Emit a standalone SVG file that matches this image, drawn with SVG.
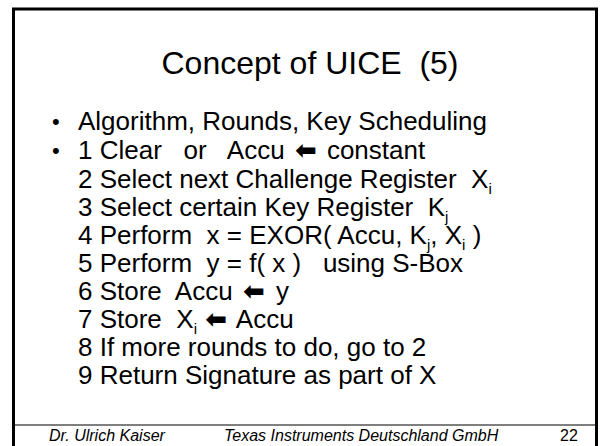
<svg xmlns="http://www.w3.org/2000/svg" width="601" height="446" viewBox="0 0 601 446">
  <style>
    .title { font-family: "Liberation Sans", Arial, sans-serif; font-size: 32px; fill: #000; }
    .body { font-family: "Liberation Sans", Arial, sans-serif; font-size: 26px; fill: #000; }
    .dot { font-family: "Liberation Sans", Arial, sans-serif; font-size: 22px; fill: #000; }
    .sub { font-size: 15px; }
    .arrow { font-family: "DejaVu Sans", sans-serif; font-weight: bold; font-size: 26px; }
    .foot { font-family: "Liberation Sans", Arial, sans-serif; font-size: 16px; font-style: italic; fill: #000; }
    .num { font-family: "Liberation Sans", Arial, sans-serif; font-size: 16px; fill: #000; }
  </style>
  <rect width="601" height="446" fill="#fff"/>
  <!-- slide frame -->
  <g id="frame" fill="none" stroke="#000">
    <path d="M13.5 446 V9 H596.5 V446" stroke-width="3"/>
    <line x1="13" y1="425" x2="596" y2="425" stroke-width="1.2"/>
  </g>
  <g id="title">
    <text class="title" x="310" y="74" text-anchor="middle" xml:space="preserve">Concept of UICE  (5)</text>
  </g>
  <g id="bullets">
    <text class="dot" x="52" y="129">•</text>
    <text class="body" x="78" y="130">Algorithm, Rounds, Key Scheduling</text>
    <text class="dot" x="52" y="158">•</text>
    <text class="body" x="78" y="159" xml:space="preserve">1 Clear   or   Accu <tspan class="arrow" dx="3">⬅</tspan><tspan dx="3"> constant</tspan></text>
    <text class="body" x="78" y="188" xml:space="preserve">2 Select next Challenge Register  X<tspan class="sub" dy="6">i</tspan></text>
    <text class="body" x="78" y="216" xml:space="preserve">3 Select certain Key Register  K<tspan class="sub" dy="6">j</tspan></text>
    <text class="body" x="78" y="244" xml:space="preserve">4 Perform  x = EXOR( Accu, K<tspan class="sub" dy="6">j</tspan><tspan dy="-6">, X</tspan><tspan class="sub" dy="6">i</tspan><tspan dy="-6"> )</tspan></text>
    <text class="body" x="78" y="272" xml:space="preserve">5 Perform  y = f( x )   using S-Box</text>
    <text class="body" x="78" y="300" xml:space="preserve">6 Store  Accu <tspan class="arrow" dx="3">⬅</tspan><tspan dx="4"> y</tspan></text>
    <text class="body" x="78" y="328" xml:space="preserve">7 Store  X<tspan class="sub" dy="6">i</tspan><tspan dy="-6"> </tspan><tspan class="arrow" dx="1">⬅</tspan><tspan dx="3"> Accu</tspan></text>
    <text class="body" x="78" y="356" xml:space="preserve">8 If more rounds to do, go to 2</text>
    <text class="body" x="78" y="384" xml:space="preserve">9 Return Signature as part of X</text>
  </g>
  <g id="footer">
    <text class="foot" x="49" y="441">Dr. Ulrich Kaiser</text>
    <text class="foot" x="224" y="441">Texas Instruments Deutschland GmbH</text>
    <text class="num" x="560" y="441">22</text>
  </g>
</svg>
